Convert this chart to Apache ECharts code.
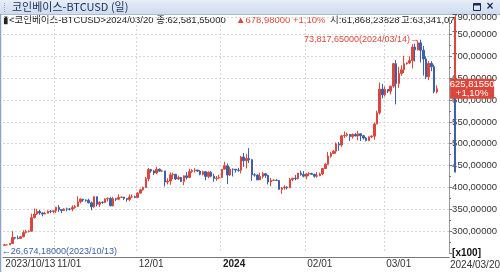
<!DOCTYPE html>
<html>
<head>
<meta charset="utf-8">
<script src="https://cdn.jsdelivr.net/npm/echarts@6/dist/echarts.min.js"></script>
<style>
  html, body { margin: 0; padding: 0; background: #fff; }
  #chart { width: 500px; height: 272px; }
</style>
</head>
<body>
<div id="chart"></div>
<script>
const windowTitle = '코인베이스-BTCUSD (일)';
const symbolName = '코인베이스-BTCUSD';
const blankDays = 4;       // 오른쪽 여백 (빈 일자)
const rangeLow = 43400;    // 오른쪽 축 파란 구간 하단

// 일봉 [시가, 종가, 저가, 고가]
const oct = [
  [26750, 26860, 26674.18, 27100], [26860, 26860, 26810, 26990], [26860, 27160, 26840, 27300],
  [27160, 28520, 27120, 30000], [28520, 28410, 28110, 28620], [28410, 28330, 28150, 28990],
  [28330, 28720, 28200, 28900], [28720, 29680, 28600, 30200], [29680, 29910, 29480, 30340],
  [29910, 29990, 29680, 30200], [29990, 33090, 29880, 34000], [33090, 33920, 32900, 35200],
  [33920, 34500, 33690, 35120], [34500, 34160, 33750, 34850], [34160, 33910, 33390, 34250],
  [33910, 34090, 33880, 34470], [34090, 34540, 34050, 34760], [34540, 34500, 34100, 34860],
  [34500, 34660, 34070, 34720]
];
const nov = [
  [34660, 35440, 34110, 35570], [35440, 34940, 34350, 35970], [34940, 34730, 34100, 34950],
  [34730, 35080, 34580, 35260], [35080, 35050, 34530, 35380], [35050, 35040, 34740, 35280],
  [35040, 35420, 34550, 35900], [35420, 35630, 35120, 35990], [35630, 36700, 35560, 37970],
  [36700, 37310, 36340, 37520], [37310, 37130, 36740, 37400], [37130, 37070, 36730, 37230],
  [37070, 36490, 36350, 37410], [36490, 35550, 34800, 36760], [35550, 37880, 35380, 37960],
  [37880, 36150, 35650, 37900], [36150, 36600, 35550, 36840], [36600, 36570, 36220, 36830],
  [36570, 37360, 36400, 37510], [37360, 37450, 36780, 37750], [37450, 35800, 35700, 37850],
  [35800, 37430, 35680, 37860], [37430, 37290, 36910, 37640], [37290, 37720, 37260, 38420],
  [37720, 37800, 37600, 37890], [37800, 37480, 37160, 37830], [37480, 37250, 36730, 37560],
  [37250, 37830, 36880, 38380], [37830, 37860, 37620, 38420], [37860, 37720, 37540, 38150]
];
const dec = [
  [37720, 38690, 37620, 38970], [38690, 39460, 38650, 39680], [39460, 39980, 39280, 40200],
  [39980, 41990, 39980, 42410], [41990, 44080, 41420, 44480], [44080, 43770, 43350, 44270],
  [43770, 43290, 42840, 44040], [43290, 44170, 43080, 44700], [44170, 43720, 43590, 44360],
  [43720, 43790, 43580, 44040], [43790, 41240, 40230, 43810], [41240, 41450, 40680, 42100],
  [41450, 42890, 40600, 43430], [42890, 43020, 41840, 43400], [43020, 41940, 41700, 43090],
  [41940, 42260, 41700, 42720], [42260, 41370, 41250, 42430], [41370, 42660, 40530, 42750],
  [42660, 42270, 41820, 43480], [42270, 43650, 42200, 44280], [43650, 43860, 43330, 44200],
  [43860, 43990, 43400, 44400], [43990, 43740, 43550, 44020], [43740, 43020, 42790, 43940],
  [43020, 43610, 42760, 43800], [43610, 42520, 41640, 43620], [42520, 43440, 42110, 43680],
  [43440, 42580, 42320, 43790], [42580, 42070, 41300, 43130], [42070, 42140, 41520, 42600],
  [42140, 42280, 41970, 42890]
];
const jan = [
  [42280, 44180, 42180, 44200], [44180, 44960, 44180, 45900], [44960, 42850, 40750, 45500],
  [42850, 44180, 42630, 44730], [44180, 44160, 42500, 44340], [44160, 43970, 43400, 44230],
  [43970, 43930, 43580, 44500], [43930, 46970, 43200, 47200], [46970, 46120, 44700, 47890],
  [46120, 46650, 44350, 47700], [46650, 46340, 45600, 49000], [46340, 42890, 41500, 46500],
  [42890, 42840, 42460, 43240], [42840, 41730, 41720, 43020], [41730, 42510, 41720, 43380],
  [42510, 43150, 42050, 43570], [43150, 42740, 42200, 43190], [42740, 41260, 40680, 42930],
  [41260, 41620, 40280, 42180], [41620, 41660, 41450, 41870], [41660, 41580, 41500, 41870],
  [41580, 39570, 39450, 41690], [39570, 39900, 38520, 40130], [39900, 40080, 39490, 40500],
  [40080, 39930, 39520, 40280], [39930, 41820, 39820, 42200], [41820, 42120, 41400, 42200],
  [42120, 42040, 41620, 42840], [42040, 43300, 41810, 43300], [43300, 42940, 42700, 43880],
  [42940, 42580, 42290, 43740]
];
const feb = [
  [42580, 43080, 41880, 43260], [43080, 43190, 42570, 43480], [43190, 43000, 42880, 43380],
  [43000, 42580, 42230, 43120], [42580, 42660, 42260, 43500], [42660, 43090, 42580, 43390],
  [43090, 44330, 42790, 44380], [44330, 45300, 44330, 45560], [45300, 47150, 45250, 48150],
  [47150, 47770, 46800, 48170], [47770, 48290, 47630, 48560], [48290, 49960, 47720, 50290],
  [49960, 49700, 48400, 50380], [49700, 51800, 49280, 52050], [51800, 51930, 51330, 52820],
  [51930, 52160, 51620, 52570], [52160, 51660, 50650, 52200], [51660, 52120, 51170, 52360],
  [52120, 51780, 51700, 52490], [51780, 52280, 50800, 52950], [52280, 51840, 50620, 52370],
  [51840, 51300, 50960, 52030], [51300, 50730, 50550, 51540], [50730, 51570, 50600, 51680],
  [51570, 51730, 51280, 51950], [51730, 54520, 50900, 54900], [54520, 57090, 54450, 57550],
  [57090, 62500, 56700, 64000], [62500, 61200, 60400, 63680]
];
const mar = [
  [61200, 62440, 60800, 63100], [62440, 62030, 61600, 62450], [62030, 63170, 61300, 63250],
  [63170, 68330, 62800, 68500], [68330, 63800, 59000, 69170], [63800, 66100, 62800, 67600],
  [66100, 66930, 65550, 67950], [66930, 68300, 66150, 70150], [68300, 68500, 68100, 68630],
  [68500, 69020, 68250, 70000], [69020, 72120, 67200, 72800], [72120, 71480, 68800, 72900],
  [71480, 73080, 71350, 73650], [73080, 71400, 68600, 73817.65], [71400, 69400, 65600, 72400],
  [69400, 65300, 64800, 70000], [65300, 68390, 64550, 68900], [68390, 67600, 66600, 68900],
  [67600, 61902.57, 61550, 68100], [61868.23828, 62581.55, 61500, 63341.07]
];

const candles = [].concat(oct, nov, dec, jan, feb, mar);

const pad = n => (n < 10 ? '0' : '') + n;
const dates = [];
for (let i = 0; i < candles.length + blankDays; i++) {
  const d = new Date(2023, 9, 13 + i);
  dates.push(d.getFullYear() + '/' + pad(d.getMonth() + 1) + '/' + pad(d.getDate()));
}

// 62581.55 -> "62,581,55000"
function fmtNum(v, dec) {
  const parts = v.toFixed(dec).split('.');
  return parts[0].replace(/\B(?=(\d{3})+(?!\d))/g, ',') + ',' + parts[1];
}

const last = candles[candles.length - 1];
const prevClose = candles[candles.length - 2][1];
const lastClose = last[1];
const change = lastClose - prevClose;
const changePct = (change / prevClose * 100).toFixed(2).replace('.', ',');

let hiIdx = 0, loIdx = 0;
candles.forEach((c, i) => {
  if (c[3] > candles[hiIdx][3]) hiIdx = i;
  if (c[2] < candles[loIdx][2]) loIdx = i;
});

const isLabel = i => i < candles.length && (i === 0 || dates[i].slice(8) === '01');
const isGrid = i => i > 0 && isLabel(i);

const RED = '#dc463b';
const BLUE = '#3c60a9';
const GRID = '#d6d6d6';
const FONT = '"Liberation Sans", "Noto Sans CJK KR", sans-serif';

// 상단 시세 줄
const infoText = (id, x, text, color, width) => ({
  id: id, type: 'text', x: x, y: 20,
  style: {
    text: text, fontSize: 9.5, fontFamily: FONT, fill: color, verticalAlign: 'middle',
    width: width, overflow: 'truncate', ellipsis: ''
  }
});

const chart = echarts.init(document.getElementById('chart'));

const option = {
  animation: false,
  backgroundColor: '#fff',
  textStyle: { fontFamily: FONT },
  grid: { left: 3, right: 45, top: 17, bottom: 19 },
  xAxis: {
    type: 'category',
    data: dates,
    offset: 4,
    axisLine: { lineStyle: { color: '#777' } },
    axisTick: { interval: isLabel, length: 4, lineStyle: { color: '#777' } },
    axisLabel: {
      interval: isLabel,
      align: 'left',
      margin: 2,
      padding: [0, 0, 0, 1],
      fontSize: 10,
      color: '#333',
      formatter: (v, i) => {
        if (i === 0) return v;
        if (v.slice(5) === '01/01') return '{b|' + v.slice(0, 4) + '}';
        return v.slice(5);
      },
      rich: { b: { fontSize: 10, fontWeight: 'bold', color: '#222' } }
    },
    splitLine: { show: true, interval: isGrid, lineStyle: { color: GRID, type: [2, 2] } }
  },
  yAxis: {
    type: 'value',
    position: 'right',
    min: 25000,
    max: 79000,
    interval: 5000,
    axisLine: { show: true, lineStyle: { color: '#999' } },
    axisTick: { show: true, length: 3, lineStyle: { color: '#777' } },
    minorTick: { show: true, splitNumber: 2, length: 2, lineStyle: { color: '#777' } },
    axisLabel: {
      margin: 3,
      fontSize: 9.5,
      color: '#333',
      formatter: v => (v === 25000 ? '{u|[x100]}' : fmtNum(v / 100, 5)),
      rich: { u: { fontSize: 10, fontWeight: 'bold', color: '#111' } }
    },
    splitLine: { showMinLine: false, lineStyle: { color: GRID, type: [2, 2] } }
  },
  series: [{
    type: 'candlestick',
    data: candles,
    barWidth: 2,
    itemStyle: { color: RED, color0: BLUE, borderColor: RED, borderColor0: BLUE, borderWidth: 1 },
    markPoint: {
      symbol: 'circle',
      symbolSize: 1,
      itemStyle: { color: 'transparent' },
      label: { show: true, fontSize: 9 },
      data: [
        {
          coord: [dates[hiIdx], candles[hiIdx][3]],
          label: { position: 'left', distance: 1, color: RED,
            formatter: fmtNum(candles[hiIdx][3], 5) + '(' + dates[hiIdx] + ')→' }
        },
        {
          coord: [dates[loIdx], candles[loIdx][2]],
          label: { position: 'right', distance: 0, offset: [-3, 6], color: BLUE,
            formatter: '←' + fmtNum(candles[loIdx][2], 5) + '(' + dates[loIdx] + ')' }
        }
      ]
    },
    markLine: {
      silent: true,
      symbol: ['none', 'none'],
      lineStyle: { color: 'transparent' },
      data: [{
        yAxis: lastClose,
        label: {
          show: true,
          position: 'end',
          distance: 1,
          backgroundColor: RED,
          padding: [1, 0],
          formatter: '{a|' + fmtNum(lastClose / 100, 5) + '}\n{a|+' + changePct + '%}',
          rich: { a: { color: '#fff', fontSize: 9.5, lineHeight: 9, width: 44, align: 'center' } }
        }
      }]
    }
  }],
  graphic: [
    {
      id: 'bar', type: 'rect', shape: { x: 0, y: 0, width: 500, height: 14 },
      style: { fill: new echarts.graphic.LinearGradient(0, 0, 0, 1, [
        { offset: 0, color: '#e6eef8' }, { offset: 1, color: '#cfdcee' }]) }
    },
    { id: 'barLine', type: 'line', shape: { x1: 0, y1: 14.5, x2: 500, y2: 14.5 }, style: { stroke: '#a9bcd6', lineWidth: 1 } },
    { id: 'leftLine', type: 'line', shape: { x1: 0.5, y1: 14, x2: 0.5, y2: 272 }, style: { stroke: '#8ea4c6', lineWidth: 1.5 } },
    { id: 'grip', type: 'line', shape: { x1: 4.5, y1: 3, x2: 4.5, y2: 12 }, style: { stroke: '#9aa9bd', lineWidth: 1, lineDash: [1, 1] } },
    {
      id: 'title', type: 'text', x: 12, y: 7,
      style: { text: windowTitle, fontSize: 11, fontFamily: '"Noto Sans CJK KR", sans-serif',
        fill: '#1c2a58', verticalAlign: 'middle' }
    },
    { id: 'maxBox', type: 'rect', shape: { x: 473.5, y: 3.5, width: 7, height: 7 }, style: { fill: 'none', stroke: '#1c2a58', lineWidth: 1 } },
    { id: 'maxTop', type: 'line', shape: { x1: 473.5, y1: 4.5, x2: 480.5, y2: 4.5 }, style: { stroke: '#1c2a58', lineWidth: 2 } },
    {
      id: 'close', type: 'text', x: 490, y: 7,
      style: { text: '×', fontSize: 12, fontWeight: 'bold', fill: '#1c2a58', align: 'center', verticalAlign: 'middle' }
    },
    infoText('info1', 3, '▮<' + symbolName + '>' + dates[candles.length - 1] + ' 종:' + fmtNum(lastClose, 5), '#222', 232),
    infoText('info2', 236, '▲' + fmtNum(change, 5) + ' +' + changePct + '%', RED, 94),
    infoText('info3', 330, '시:' + fmtNum(last[0], 5), '#222', 76),
    infoText('info4', 401, '고:' + fmtNum(last[3], 5), '#222', 58),
    {
      id: 'lastDate', type: 'text', x: 500, y: 265,
      style: { text: dates[candles.length - 1], fontSize: 10, fill: '#333', align: 'right', verticalAlign: 'middle',
        fontFamily: '"Liberation Sans", sans-serif' }
    }
  ]
};

chart.setOption(option);

// 오른쪽 축 위의 빨강/파랑 구간
const axisX = 455;
const yTop = chart.convertToPixel({ yAxisIndex: 0 }, 79000);
const yClose = chart.convertToPixel({ yAxisIndex: 0 }, lastClose);
const yLow = chart.convertToPixel({ yAxisIndex: 0 }, rangeLow);
chart.setOption({
  graphic: [
    { id: 'upSeg', type: 'line', z: 1, shape: { x1: axisX, y1: yTop, x2: axisX, y2: yClose }, style: { stroke: RED, lineWidth: 2 } },
    { id: 'dnSeg', type: 'line', z: 1, shape: { x1: axisX, y1: yClose, x2: axisX, y2: yLow }, style: { stroke: BLUE, lineWidth: 2 } }
  ]
});
</script>
</body>
</html>
